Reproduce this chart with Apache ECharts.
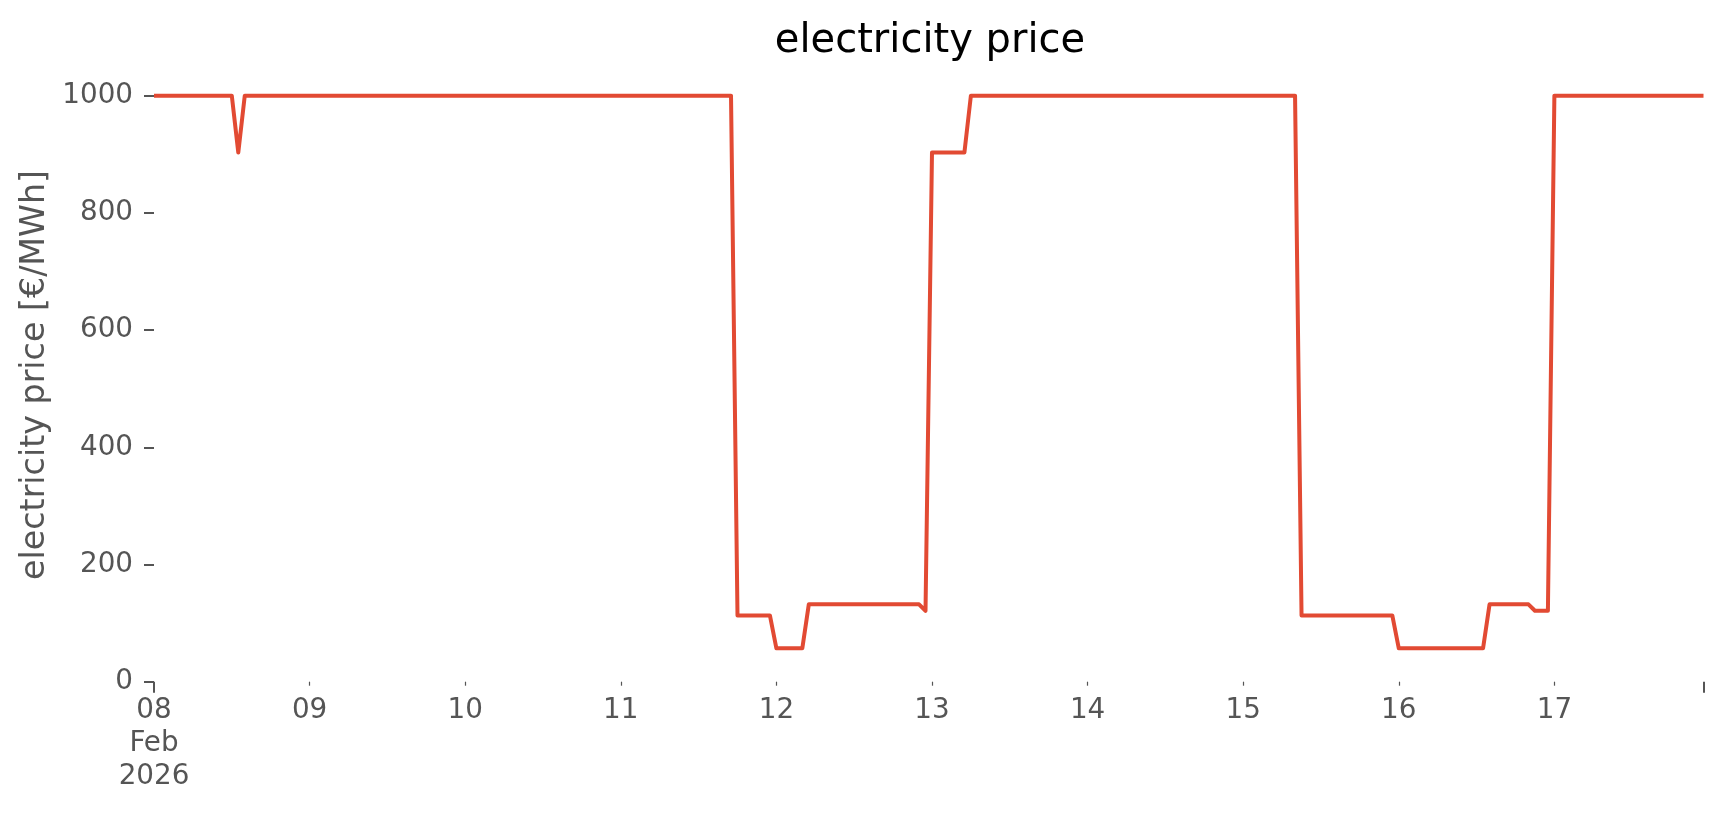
<!DOCTYPE html>
<html>
<head>
<meta charset="utf-8">
<script src="https://cdn.jsdelivr.net/npm/echarts@6/dist/echarts.min.js"></script>
<style>html,body{margin:0;padding:0;background:#fff}#c{width:1724px;height:815px}</style>
</head>
<body>
<div id="c"></div>
<script>
// ---- data ----
const startTime = '2026-02-08T00:00Z';
const endTime = '2026-02-17T23:00Z';
const times = [
  '2026-02-08T00:00Z','2026-02-08T12:00Z','2026-02-08T13:00Z','2026-02-08T14:00Z',
  '2026-02-11T17:00Z','2026-02-11T18:00Z','2026-02-11T23:00Z','2026-02-12T00:00Z',
  '2026-02-12T04:00Z','2026-02-12T05:00Z','2026-02-12T22:00Z','2026-02-12T23:00Z',
  '2026-02-13T00:00Z','2026-02-13T05:00Z','2026-02-13T06:00Z','2026-02-15T08:00Z',
  '2026-02-15T09:00Z','2026-02-15T23:00Z','2026-02-16T00:00Z','2026-02-16T13:00Z',
  '2026-02-16T14:00Z','2026-02-16T20:00Z','2026-02-16T21:00Z','2026-02-16T23:00Z',
  '2026-02-17T00:00Z','2026-02-17T23:00Z'
];
const prices = [
  1000, 1000, 903, 1000,
  1000, 113, 113, 57,
  57, 132, 132, 121,
  903, 903, 1000, 1000,
  113, 113, 57, 57,
  132, 132, 121, 121,
  1000, 1000
];
const dayLabels = ['08\nFeb\n2026','09','10','11','12','13','14','15','16','17'];
const yTicks = [0, 200, 400, 600, 800, 1000];
const yTop = 1047;

// ---- build ----
const t0 = Date.parse(startTime);
const toHours = t => (Date.parse(t) - t0) / 3600000;
const xMax = toHours(endTime);
const seriesData = times.map((t, i) => [toHours(t), prices[i]]);
const dayTicks = dayLabels.map((_, i) => i * 24);

const font = 'DejaVu Sans';
const chart = echarts.init(document.getElementById('c'));
chart.setOption({
  backgroundColor: '#ffffff',
  animation: false,
  title: {
    text: 'electricity price',
    left: 925, top: 17, textAlign: 'center',
    textStyle: { fontFamily: font, fontSize: 40, fontWeight: 'normal', color: '#000000' }
  },
  grid: { left: 154, right: 20.5, top: 68.1, bottom: 133.3, containLabel: false },
  xAxis: [{
    type: 'value', min: 0, max: xMax,
    axisLine: { show: false },
    splitLine: { show: false },
    axisTick: { show: true, customValues: [0, xMax], length: 11, lineStyle: { color: '#555555', width: 2 } },
    axisLabel: {
      customValues: dayTicks, margin: 13, lineHeight: 33,
      fontFamily: font, fontSize: 27.8, color: '#555555',
      formatter: v => dayLabels[Math.round(v / 24)] || ''
    }
  }, {
    type: 'value', min: 0, max: xMax, position: 'bottom',
    axisLine: { show: false },
    splitLine: { show: false },
    axisLabel: { show: false },
    axisTick: { show: true, customValues: dayTicks.slice(1), length: 4, lineStyle: { color: '#555555', width: 1.2 } }
  }],
  yAxis: {
    type: 'value', min: 0, max: yTop,
    name: 'electricity price [€/MWh]',
    nameLocation: 'middle', nameGap: 90,
    nameTextStyle: { fontFamily: font, fontSize: 33.3, color: '#555555' },
    axisLine: { show: false },
    splitLine: { show: false },
    axisTick: { show: true, customValues: yTicks, length: 10, lineStyle: { color: '#555555', width: 2 } },
    axisLabel: {
      customValues: yTicks, margin: 21,
      fontFamily: font, fontSize: 27.8, color: '#555555',
      formatter: v => String(v)
    }
  },
  series: [{
    type: 'line',
    data: seriesData,
    showSymbol: false,
    clip: false,
    lineStyle: { color: '#E24A33', width: 4, join: 'round', cap: 'butt' }
  }]
});
</script>
</body>
</html>
